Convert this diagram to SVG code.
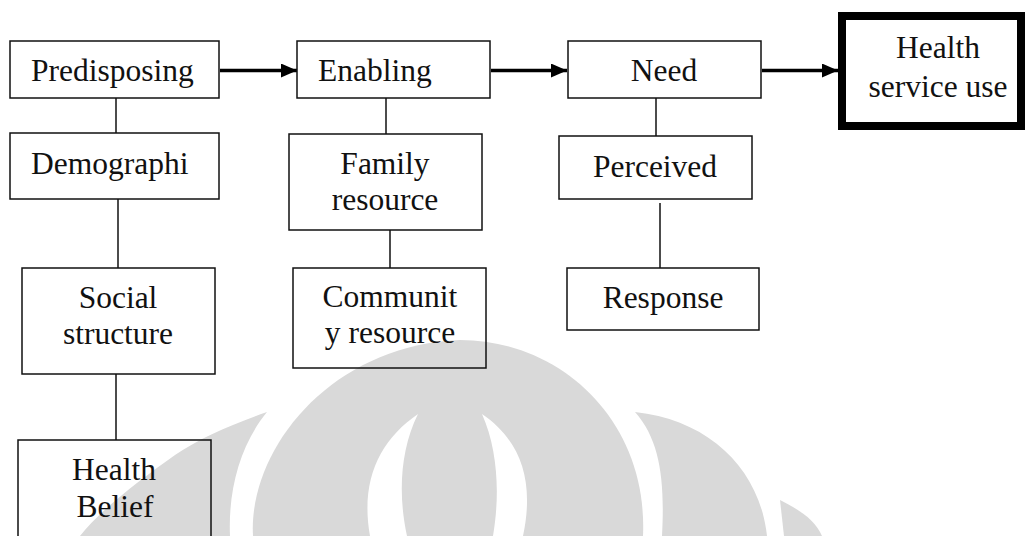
<svg xmlns="http://www.w3.org/2000/svg" width="1025" height="536" viewBox="0 0 1025 536">
<style>
.box{fill:none;stroke:#111;stroke-width:1.5}
.thick{fill:none;stroke:#000;stroke-width:8}
.lbl{font-family:"Liberation Serif","Times New Roman",serif;font-size:31.5px;fill:#111}
.mid{text-anchor:middle}
.link{stroke:#111;stroke-width:1.5;fill:none}
.arrow{stroke:#000;stroke-width:3.5;fill:none}
.wm{fill:#d9d9d9}
.gap{fill:#fff}
</style>
<defs>
<marker id="ah" markerUnits="userSpaceOnUse" markerWidth="16" markerHeight="14" refX="16" refY="7" orient="auto">
<path d="M0,0 L16,7 L0,14 Z" fill="#000"/>
</marker>
</defs>
<rect width="1025" height="536" fill="#fff"/>
<g id="watermark">
<path class="wm" d="M267,412 C230,425 200,438 175,455 C140,480 100,510 80,536 L230,536 C228,490 240,445 267,412 Z"/>
<path class="wm" d="M253,536 C248,450 330,345 460,340 C560,340 648,420 643,536 Z"/>
<path class="gap" d="M418,414 C380,440 360,480 370,536 L407,536 C398,495 400,450 418,414 Z"/>
<path class="gap" d="M482,414 C498,450 500,495 493,536 L523,536 C535,480 520,440 482,414 Z"/>
<path class="wm" d="M635,412 C660,440 665,480 662,536 L767,536 C760,470 710,420 635,412 Z"/>
<path class="wm" d="M780,500 C800,510 815,520 822,536 L784,536 Z"/>
</g>
<g id="connectors">
<line class="arrow" x1="220" y1="70.5" x2="297" y2="70.5" marker-end="url(#ah)"/>
<line class="arrow" x1="491" y1="70.5" x2="567" y2="70.5" marker-end="url(#ah)"/>
<line class="arrow" x1="762" y1="70.5" x2="838" y2="70.5" marker-end="url(#ah)"/>
<line class="link" x1="116" y1="98" x2="116" y2="133"/>
<line class="link" x1="118" y1="199" x2="118" y2="268"/>
<line class="link" x1="116" y1="374" x2="116" y2="440"/>
<line class="link" x1="386" y1="98" x2="386" y2="134"/>
<line class="link" x1="390" y1="230" x2="390" y2="268"/>
<line class="link" x1="656" y1="98" x2="656" y2="136"/>
<line class="link" x1="660" y1="203" x2="660" y2="268"/>
</g>
<g id="predisposing"><rect class="box" x="10" y="41" width="209" height="57"/><text class="lbl" x="31" y="81">Predisposing</text></g>
<g id="enabling"><rect class="box" x="297" y="41" width="193" height="57"/><text class="lbl" x="318" y="81">Enabling</text></g>
<g id="need"><rect class="box" x="568" y="41" width="193" height="57"/><text class="lbl mid" x="664" y="81">Need</text></g>
<g id="health-service-use"><rect class="thick" x="842" y="16" width="179" height="110"/><text class="lbl mid" x="938" y="58">Health</text><text class="lbl mid" x="938" y="97">service use</text></g>
<g id="demographi"><rect class="box" x="10" y="133" width="209" height="66"/><text class="lbl" x="31" y="174">Demographi</text></g>
<g id="family-resource"><rect class="box" x="289" y="134" width="193" height="96"/><text class="lbl mid" x="385" y="174">Family</text><text class="lbl mid" x="385" y="210">resource</text></g>
<g id="perceived"><rect class="box" x="559" y="136" width="193" height="63"/><text class="lbl mid" x="655" y="177">Perceived</text></g>
<g id="social-structure"><rect class="box" x="22" y="268" width="193" height="106"/><text class="lbl mid" x="118" y="308">Social</text><text class="lbl mid" x="118" y="344">structure</text></g>
<g id="community-resource"><rect class="box" x="293" y="268" width="193" height="100"/><text class="lbl mid" x="390" y="307">Communit</text><text class="lbl mid" x="390" y="343">y resource</text></g>
<g id="response"><rect class="box" x="567" y="268" width="192" height="62"/><text class="lbl mid" x="663" y="308">Response</text></g>
<g id="health-belief"><rect class="box" x="18" y="440" width="193" height="110"/><text class="lbl mid" x="114" y="480">Health</text><text class="lbl mid" x="115" y="517">Belief</text></g>
</svg>
